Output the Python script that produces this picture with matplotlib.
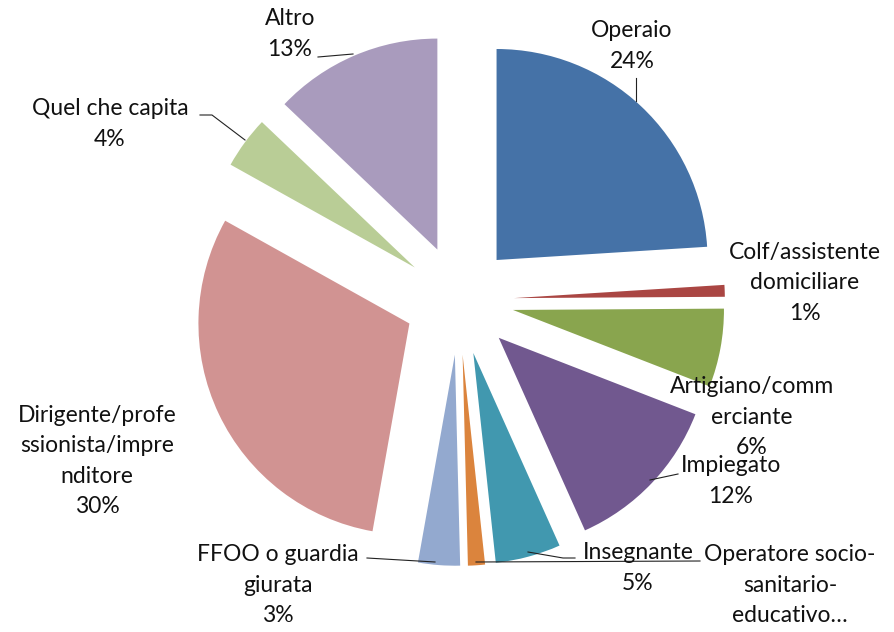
import matplotlib.pyplot as plt

# Slice data (clockwise from 12 o'clock)
labels = ["Operaio", "Colf/assistente\ndomiciliare", "Artigiano/comm\nerciante",
          "Impiegato", "Insegnante", "Operatore socio-\nsanitario-\neducativo…",
          "FFOO o guardia\ngiurata", "Dirigente/profe\nssionista/impre\nnditore",
          "Quel che capita", "Altro"]
values = [24.0, 0.9, 6.0, 12.4, 5.0, 1.3, 3.2, 30.3, 4.0, 12.9]
pct_text = ["24%", "1%", "6%", "12%", "5%", "", "3%", "30%", "4%", "13%"]
colors = ["#4572A7", "#AA4643", "#89A54E", "#71588F", "#4198AF",
          "#DB843D", "#93A9CF", "#D19392", "#B9CD96", "#A99BBD"]

W, H = 894, 632
CX, CY, R = 459, 300, 211  # pie centre and radius in pixels

fig = plt.figure(figsize=(W / 100, H / 100), dpi=100)
ax = fig.add_axes([0, 0, 1, 1])
ax.pie(values, colors=colors, startangle=90, counterclock=False,
       explode=[0.26] * len(values), radius=1, wedgeprops=dict(linewidth=0))
ax.set_xlim(-CX / R, (W - CX) / R)
ax.set_ylim(-(H - CY) / R, CY / R)
ax.set_aspect("equal", adjustable="box")
ax.axis("off")


def fx(x):
    return x / W


def fy(y):
    return 1 - y / H


# label block centres (pixels)
label_pos = [(632, 46), (805, 283), (752, 417), (731, 481), (638, 568),
             (790, 585), (278, 585), (97, 461), (110, 124), (290, 34)]
for lab, pct, (x, y) in zip(labels, pct_text, label_pos):
    txt = lab + ("\n" + pct if pct else "")
    fig.text(fx(x), fy(y), txt, ha="center", va="center", ma="center",
             fontsize=16.5, family=["Lato", "DejaVu Sans"], linespacing=1.55,
             color="#111111")

# leader lines (pixels)
leaders = [
    [(636, 78), (636, 101)],
    [(678, 474), (650, 480)],
    [(528, 552), (563, 558), (575, 558)],
    [(476, 562), (700, 561)],
    [(367, 558), (435, 562)],
    [(200, 115), (212, 115), (245, 140)],
    [(318, 57), (353, 54)],
]
for pts in leaders:
    xs = [fx(p[0]) for p in pts]
    ys = [fy(p[1]) for p in pts]
    fig.add_artist(plt.Line2D(xs, ys, color="#222222", linewidth=0.8))

fig.savefig("out.png", dpi=100)
